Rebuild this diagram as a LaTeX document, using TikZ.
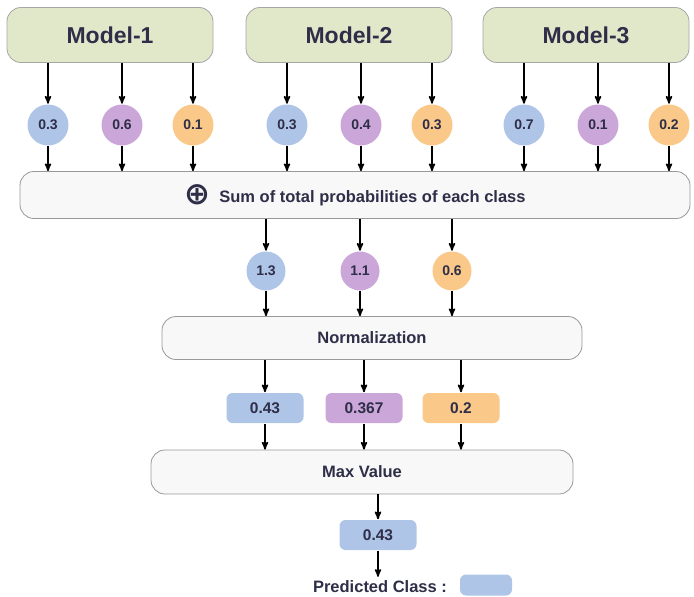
\documentclass[tikz,border=0pt]{standalone}
\usepackage{fontspec}
\setmainfont{Liberation Sans}
\newfontfamily\symfont{DejaVu Sans}
\usetikzlibrary{arrows}
\usepackage{color}

\definecolor{modelgreen}{HTML}{E1E8CA}
\definecolor{stagegray}{HTML}{F8F8F8}
\definecolor{clsblue}{HTML}{AFC5E8}
\definecolor{clspurple}{HTML}{CBA6D9}
\definecolor{clsorange}{HTML}{FAC888}
\definecolor{txt}{HTML}{2E2E48}

\begin{document}
\begin{tikzpicture}[x=1pt,y=-1pt,>=stealth',line width=1.6pt]
  \tikzstyle{model}=[draw=black!35,line width=0.8pt,fill=modelgreen,rounded corners=14pt,minimum width=206pt,minimum height=55pt,font=\fontsize{23}{26}\selectfont\bfseries,text=txt]
  \tikzstyle{prob}=[circle,minimum size=41pt,inner sep=0pt,font=\fontsize{14}{16}\selectfont\bfseries,text=txt]
  \tikzstyle{stage}=[draw=black!40,line width=0.8pt,fill=stagegray,rounded corners=14pt,font=\fontsize{16.5}{19}\selectfont\bfseries,text=txt]
  \tikzstyle{val}=[rounded corners=6pt,minimum width=77pt,minimum height=30pt,inner sep=0pt,font=\fontsize{15.5}{18}\selectfont\bfseries,text=txt]
  \tikzstyle{flow}=[->,black]

  \useasboundingbox (0,0) rectangle (694,597);

  % models
  \node[model] (m1) at (110,35) {Model-1};
  \node[model] (m2) at (349,35) {Model-2};
  \node[model] (m3) at (586,35) {Model-3};

  % class probabilities per model
  \foreach \m/\x/\pa/\pb/\pc in {1/110/0.3/0.6/0.1, 2/349/0.3/0.4/0.3, 3/586/0.7/0.1/0.2} {
    \node[prob,fill=clsblue]   (p\m1) at (\x-62,125) {\pa};
    \node[prob,fill=clspurple] (p\m2) at (\x+12,125) {\pb};
    \node[prob,fill=clsorange] (p\m3) at (\x+83,125) {\pc};
  }

  \node[stage,minimum width=670pt,minimum height=47pt] (sum) at (355,195)
    {\raisebox{-0.12em}{\symfont\fontsize{31}{31}\selectfont ⊕}\hspace{9pt}Sum of total probabilities of each class};

  \foreach \m in {1,2,3}
    \foreach \c in {1,2,3} {
      \draw[flow] (m\m.south -| p\m\c) -- (p\m\c);
      \draw[flow] (p\m\c) -- (p\m\c |- sum.north);
    }

  % summed probabilities
  \node[prob,minimum size=39pt,fill=clsblue]   (s1) at (266,271) {1.3};
  \node[prob,minimum size=39pt,fill=clspurple] (s2) at (360,271) {1.1};
  \node[prob,minimum size=39pt,fill=clsorange] (s3) at (452,271) {0.6};

  \node[stage,minimum width=420pt,minimum height=43pt] (norm) at (372,338) {Normalization};

  % normalized values
  \node[val,fill=clsblue]   (v1) at (265,408) {0.43};
  \node[val,fill=clspurple] (v2) at (364,408) {0.367};
  \node[val,fill=clsorange] (v3) at (461,408) {0.2};

  \node[stage,minimum width=422pt,minimum height=44pt] (maxv) at (362,472) {Max Value};

  \foreach \i in {1,2,3} {
    \draw[flow] (sum.south -| s\i) -- (s\i);
    \draw[flow] (s\i) -- (s\i |- norm.north);
    \draw[flow] (norm.south -| v\i) -- (v\i);
    \draw[flow] (v\i) -- (v\i |- maxv.north);
  }

  \node[val,fill=clsblue] (best) at (378,535) {0.43};
  \node[font=\fontsize{16.5}{19}\selectfont\bfseries,text=txt] (pred) at (380,587) {Predicted Class :};
  \node[val,fill=clsblue,minimum width=52pt,minimum height=21pt] (swatch) at (486,585) {};

  \draw[flow] (maxv.south -| best) -- (best);
  \draw[flow] (best) -- (best |- pred.north);
\end{tikzpicture}
\end{document}
